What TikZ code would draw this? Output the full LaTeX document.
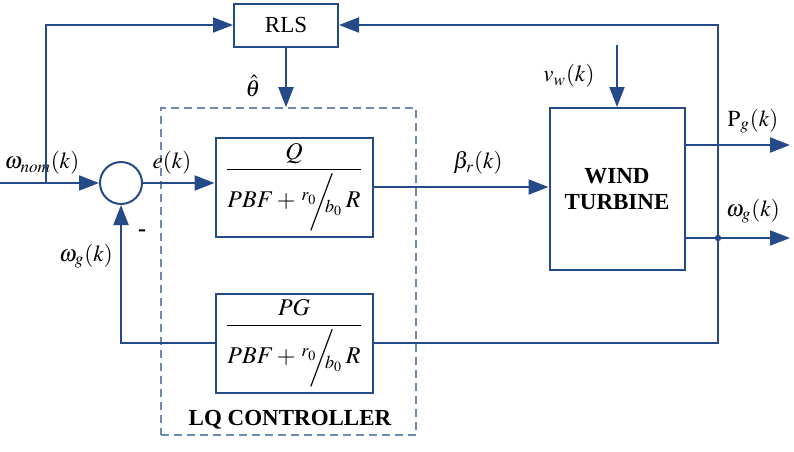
\documentclass[tikz,border=0pt]{standalone}
\usepackage{amsmath}
\usepackage{mathptmx}
\usepackage[no-math]{fontspec}
\setmainfont{Liberation Serif}
\usetikzlibrary{arrows.meta, positioning}
\definecolor{lineblue}{RGB}{36, 75, 135}
\definecolor{dashblue}{RGB}{110, 138, 178}
\newcommand{\rbslash}{\,{}^{r_0}\mkern-6mu\bigg/\mkern-7mu{}_{b_0}\,}

\begin{document}
\begin{tikzpicture}[
  x=0.5pt, y=-0.5pt,
  font=\fontsize{11.5}{13}\selectfont,
  block/.style={draw=lineblue, line width=1pt, fill=white, inner sep=0pt,
                minimum width=78.5pt, minimum height=49.5pt,
                font=\fontsize{12}{14}\selectfont},
  rlsbox/.style={draw=lineblue, line width=1pt, fill=white, inner sep=0pt,
                 minimum width=52pt, minimum height=21.5pt},
  turbine/.style={draw=lineblue, line width=1pt, fill=white, inner sep=0pt,
                  minimum width=67.5pt, minimum height=81pt,
                  font=\fontsize{11.5}{13}\selectfont\bfseries, align=center},
  sumnode/.style={draw=lineblue, line width=1pt, circle, fill=white,
                  inner sep=0pt, minimum size=21pt},
  lqframe/.style={draw=dashblue, line width=0.8pt, dash pattern=on 4pt off 2.5pt,
                  inner sep=0pt, minimum width=127.5pt, minimum height=163.5pt},
  wire/.style={draw=lineblue, line width=1pt},
  arr/.style={wire, -{Triangle[length=10pt, width=7.5pt]}},
  lbl/.style={inner sep=0pt}
]
  \useasboundingbox (0,0) rectangle (794,451);
  % blocks
  \node[lqframe] (lq)  at (288.5,271.5) {};
  \node[rlsbox]  (rls) at (286,25) {RLS};
  \node[sumnode] (sum) at (121,183) {};
  \node[block]   (q)   at (294,187) {$\dfrac{Q}{PBF+\rbslash R}$};
  \node[block]   (pg)  at (294,343) {$\dfrac{PG}{PBF+\rbslash R}$};
  \node[turbine] (wt)  at (617,189) {WIND\\TURBINE};
  \node[lbl, font=\fontsize{11.5}{13}\selectfont\bfseries] (lqname) at (290,420) {LQ CONTROLLER};

  % free ends
  \coordinate (nomin) at (0,183);
  \coordinate (tap)   at (46,183);
  \coordinate (vw)    at (617,45);
  \coordinate (pgout) at (790,145);
  \coordinate (wgout) at (790,238);
  \coordinate (fb)    at (718,238);

  % labels
  \node[lbl] (lnom)   at (42,163)  {$\omega_{nom}(k)$};
  \node[lbl] (le)     at (172,163) {$e(k)$};
  \node[lbl] (lbeta)  at (478,163) {$\beta_r(k)$};
  \node[lbl] (lwg)    at (86,256)  {$\omega_g(k)$};
  \node[lbl, font=\fontsize{12}{14}\selectfont\bfseries] (lminus) at (142,233) {-};
  \node[lbl] (ltheta) at (253,86)  {$\hat{\theta}$};
  \node[lbl] (lvw)    at (569,76)  {$v_w(k)$};
  \node[lbl] (lpg)    at (753,121) {$\mathrm{P}_g(k)$};
  \node[lbl] (lwgo)   at (753,211) {$\omega_g(k)$};

  % connectors
  \draw[arr] (nomin) -- (sum.west);
  \draw[arr] (tap) |- (rls.west);
  \draw[arr] (rls.south) -- (rls.south |- lq.north);
  \draw[arr] (sum.east) -- (q.west |- sum.east);
  \draw[arr] (q.east) -- (wt.west |- q.east);
  \draw[arr] (vw) -- (wt.north);
  \draw[arr] (wt.east |- pgout) -- (pgout);
  \draw[arr] (wt.east |- wgout) -- (wgout);
  \draw[arr] (fb) |- (rls.east);
  \draw[wire] (fb) |- (pg.east);
  \draw[arr] (pg.west) -| (sum.south);
  \fill[lineblue] (fb) circle (1.6pt);
\end{tikzpicture}
\end{document}
